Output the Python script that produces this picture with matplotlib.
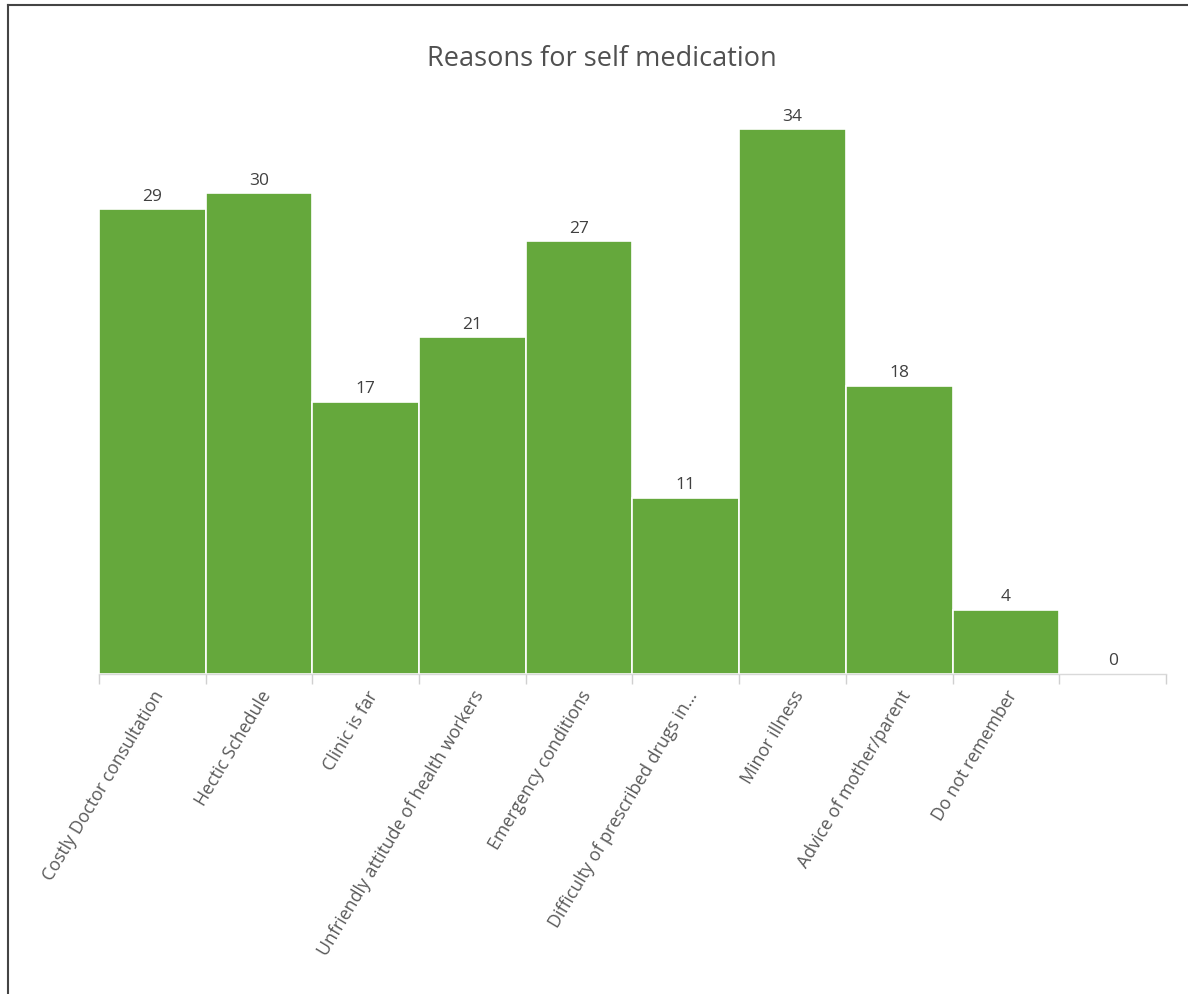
import numpy as np
import matplotlib.pyplot as plt
from matplotlib.lines import Line2D

# data
reasons = [
    "Costly Doctor consultation",
    "Hectic Schedule",
    "Clinic is far",
    "Unfriendly attitude of health workers",
    "Emergency conditions",
    "Difficulty of prescribed drugs in...",
    "Minor illness",
    "Advice of mother/parent",
    "Do not remember",
    "",
]
counts = [29, 30, 17, 21, 27, 11, 34, 18, 4, 0]

plt.rcParams['font.family'] = ['Open Sans', 'DejaVu Sans']

fig = plt.figure(figsize=(11.88, 9.95), dpi=100)
ax = fig.add_axes([0.0833, 0.3216, 0.8982, 0.5879])

x = np.arange(len(counts))
bars = ax.bar(x, counts, width=1.0, color='#65A83C', edgecolor='white', linewidth=1.2)

for xi, v in zip(x, counts):
    ax.text(xi, v + 0.35, str(v), ha='center', va='bottom', fontsize=12.5, color='#404040')

ax.set_xlim(-0.5, len(counts) - 0.5)
ax.set_ylim(0, 36.5)
ax.set_yticks([])

# category labels, rotated like the original
ax.set_xticks(x)
ax.set_xticklabels(reasons, rotation=59, ha='right', rotation_mode='anchor',
                   fontsize=12.8, color='#595959')
ax.tick_params(axis='x', length=0, pad=9)

# tick marks between categories
ax.set_xticks(np.arange(-0.5, len(counts)), minor=True)
ax.tick_params(axis='x', which='minor', length=7, color='#d0d0d0', width=1)

for side in ['top', 'right', 'left']:
    ax.spines[side].set_visible(False)
ax.spines['bottom'].set_color('#d9d9d9')
ax.spines['bottom'].set_linewidth(1)

fig.text(0.507, 0.941, "Reasons for self medication", ha='center', va='center',
         fontsize=19.5, color='#505050')

# frame around the picture (top and left edges visible)
fig.add_artist(Line2D([0.0067, 1.0], [0.994, 0.994], color='#444444', lw=1.5, transform=fig.transFigure))
fig.add_artist(Line2D([0.0067, 0.0067], [0.0, 0.994], color='#444444', lw=1.5, transform=fig.transFigure))

fig.savefig('out.png', dpi=100)
